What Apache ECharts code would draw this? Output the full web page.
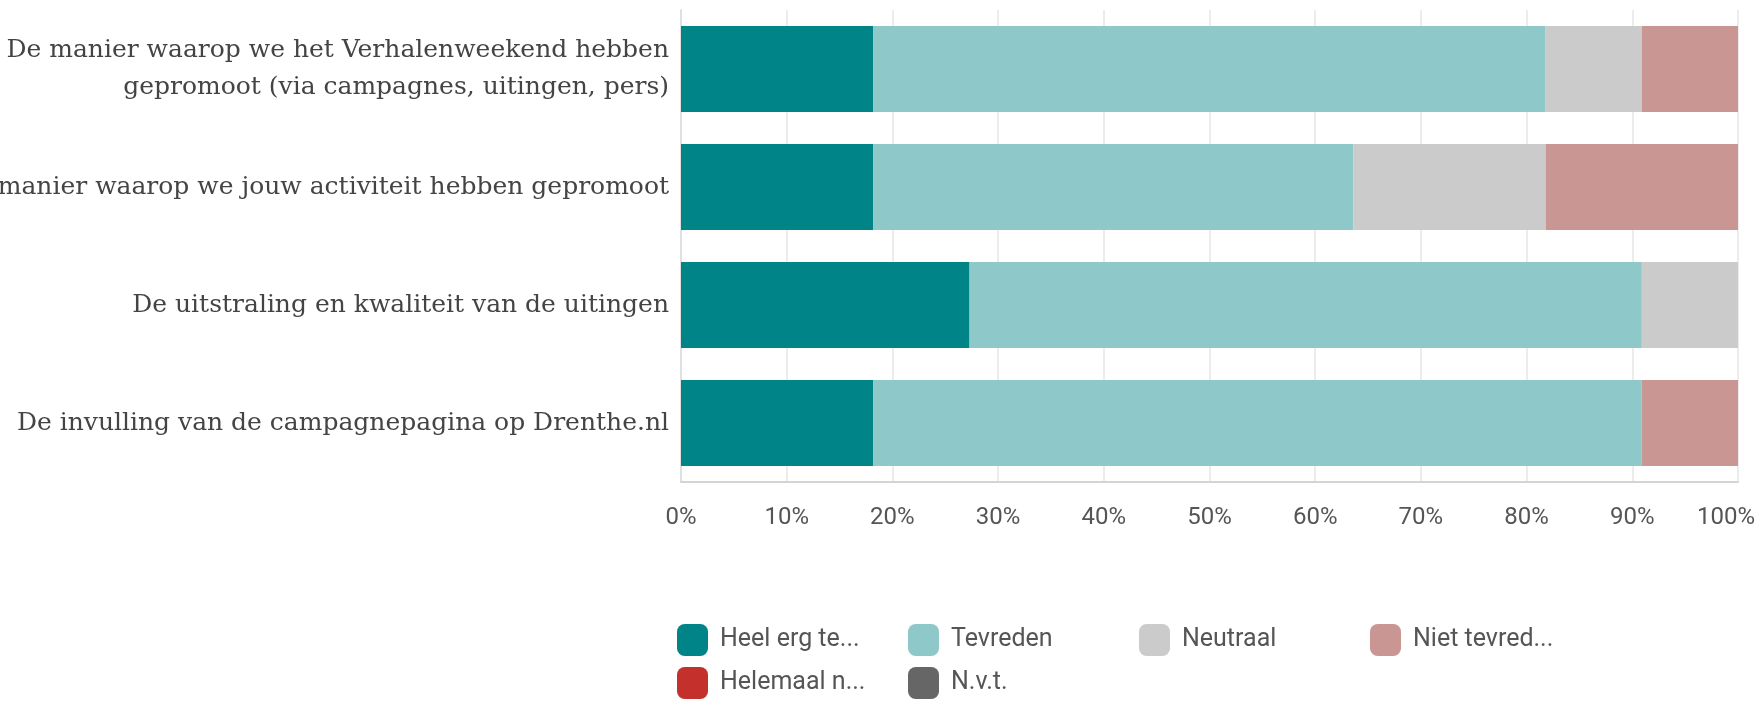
<!DOCTYPE html>
<html>
<head>
<meta charset="utf-8">
<script src="https://cdn.jsdelivr.net/npm/echarts@6/dist/echarts.min.js"></script>
<style>
html,body{margin:0;padding:0;background:#fff}
#chart{width:1759px;height:712px}
</style>
</head>
<body>
<div id="chart"></div>
<script>
// vragen (van boven naar beneden)
var vragen = [
    'De manier waarop we het Verhalenweekend hebben gepromoot (via campagnes, uitingen, pers)',
    'De manier waarop we jouw activiteit hebben gepromoot',
    'De uitstraling en kwaliteit van de uitingen',
    'De invulling van de campagnepagina op Drenthe.nl'
];
// antwoorden in procenten
var heelErgTevreden = [18.2, 18.2, 27.3, 18.2];
var tevreden        = [63.6, 45.4, 63.6, 72.7];
var neutraal        = [9.1, 18.2, 9.1, 0];
var nietTevreden    = [9.1, 18.2, 0, 9.1];
var helemaalNiet    = [0, 0, 0, 0];
var nvt             = [0, 0, 0, 0];

var antwoorden = ['Heel erg tevreden', 'Tevreden', 'Neutraal', 'Niet tevreden', 'Helemaal niet tevreden', 'N.v.t.'];
var kleuren = ['#008487', '#8fc8c9', '#cbcbcb', '#c99693', '#c4302b', '#666666'];
var reeksen = [heelErgTevreden, tevreden, neutraal, nietTevreden, helemaalNiet, nvt];

var legendFont = '25px Roboto';

// lange labels op woordgrens afbreken
function wrapLabel(txt) {
    var woorden = txt.split(' '), regels = [], regel = '';
    woorden.forEach(function (w) {
        var probeer = regel ? regel + ' ' + w : w;
        if (probeer.length > 54 && regel) {
            regels.push(regel);
            regel = w;
        } else {
            regel = probeer;
        }
    });
    regels.push(regel);
    return regels.join('\n');
}

function kortNaam(name) {
    var kort;
    try {
        kort = echarts.format.truncateText(name, 148, legendFont, '...');
    } catch (e) {
        kort = name.length > 11 ? name.slice(0, 11) + '...' : name;
    }
    return '{t|' + kort + '}';
}

var chart = echarts.init(document.getElementById('chart'));
chart.setOption({
    animation: false,
    color: kleuren,
    grid: {
        left: 681,
        right: 21,
        top: 10,
        bottom: 230,
        containLabel: false,
        outerBoundsMode: 'none'
    },
    legend: {
        data: antwoorden,
        left: 677,
        top: 624,
        width: 930,
        padding: 0,
        itemWidth: 31,
        itemHeight: 32,
        itemGap: 11,
        icon: 'roundRect',
        formatter: kortNaam,
        textStyle: {
            fontFamily: 'Roboto',
            fontSize: 25,
            color: '#555',
            rich: {
                t: {
                    fontFamily: 'Roboto',
                    fontSize: 25,
                    color: '#555',
                    width: 177,
                    lineHeight: 32,
                    padding: [0, 0, 0, 7]
                }
            }
        }
    },
    xAxis: {
        type: 'value',
        min: 0,
        max: 100,
        interval: 10,
        axisLine: {show: true, lineStyle: {color: '#d4d4d4', width: 2}},
        axisTick: {show: false},
        splitLine: {show: true, lineStyle: {color: '#ececec', width: 2}},
        axisLabel: {
            formatter: function (v) {
                // laatste label schuift binnen de rand
                return v === 100 ? '{last|' + v + '%}' : v + '%';
            },
            fontFamily: 'Roboto',
            fontSize: 24,
            color: '#555',
            margin: 24,
            rich: {
                last: {
                    fontFamily: 'Roboto',
                    fontSize: 24,
                    color: '#555',
                    padding: [0, 24, 0, 0]
                }
            }
        }
    },
    yAxis: {
        type: 'category',
        inverse: true,
        data: vragen,
        axisLine: {show: true, lineStyle: {color: '#e0e0e0', width: 2}},
        axisTick: {show: false},
        axisLabel: {
            formatter: wrapLabel,
            fontFamily: 'DejaVu Serif',
            fontSize: 25,
            lineHeight: 37,
            color: '#444',
            margin: 12
        }
    },
    series: reeksen.map(function (vals, i) {
        return {
            name: antwoorden[i],
            type: 'bar',
            stack: 'totaal',
            barCategoryGap: '27%',
            data: vals
        };
    })
});
</script>
</body>
</html>
